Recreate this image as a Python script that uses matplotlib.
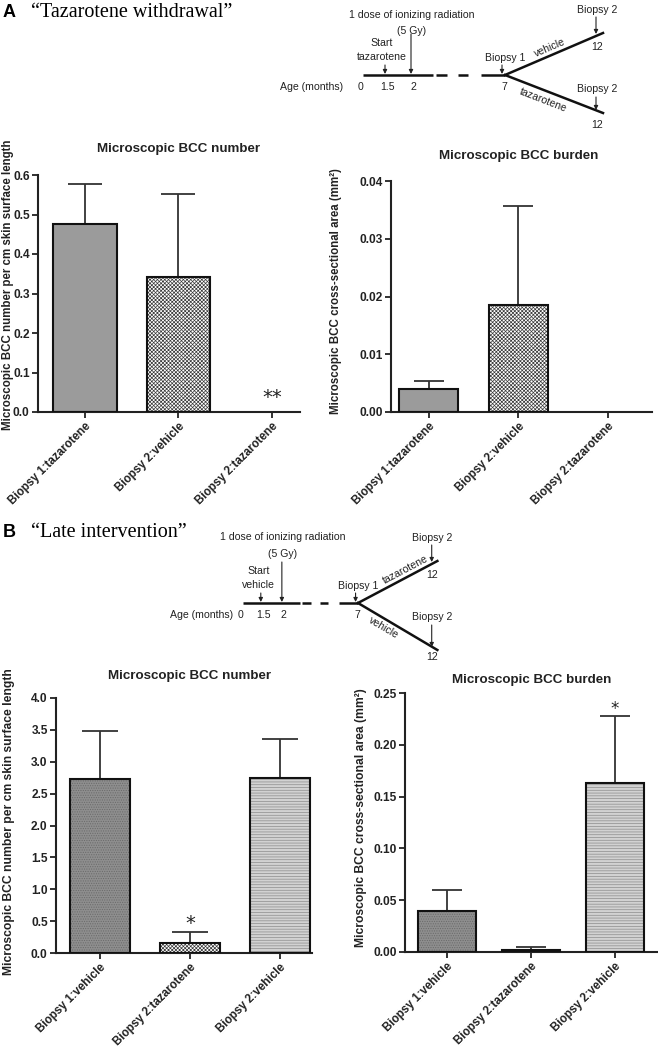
import numpy as np
import matplotlib
matplotlib.use('Agg')
import matplotlib.pyplot as plt

plt.rcParams['font.family'] = ['Liberation Sans', 'DejaVu Sans']
plt.rcParams['hatch.linewidth'] = 0.5

# ---- data ----
groups_a = ['Biopsy 1:tazarotene', 'Biopsy 2:vehicle', 'Biopsy 2:tazarotene']
a_number_mean = [0.475, 0.343, 0.0]
a_number_err = [0.102, 0.210, 0.0]
a_burden_mean = [0.0039, 0.0186, 0.0]
a_burden_err = [0.0014, 0.0171, 0.0]

groups_b = ['Biopsy 1:vehicle', 'Biopsy 2:tazarotene', 'Biopsy 2:vehicle']
b_number_mean = [2.73, 0.16, 2.75]
b_number_err = [0.75, 0.17, 0.60]
b_burden_mean = [0.040, 0.002, 0.163]
b_burden_err = [0.020, 0.003, 0.065]

W, H = 658, 1050
fig = plt.figure(figsize=(W / 100, H / 100), dpi=100)
ov = fig.add_axes([0, 0, 1, 1])
ov.set_xlim(0, W)
ov.set_ylim(H, 0)
ov.axis('off')

TXT = '#222222'
SCH_FONT = ['Liberation Sans Narrow', 'Liberation Sans', 'DejaVu Sans']


def px_axes(x0, y0, x1, y1):
    return fig.add_axes([x0 / W, 1 - y1 / H, (x1 - x0) / W, (y1 - y0) / H])


def bar_panel(ax, groups, means, errs, styles, ylim, yticks, fmt, xlim, width, capsize):
    x = np.arange(len(groups))
    for xi, m, (fc, hatch, hc) in zip(x, means, styles):
        if m <= 0:
            continue
        ax.bar(xi, m, width, color=fc, hatch=hatch, edgecolor=hc, linewidth=0, zorder=2)
        ax.bar(xi, m, width, fill=False, edgecolor='#111111', linewidth=1.5, zorder=3)
    nz = [i for i, m in enumerate(means) if m > 0]
    ax.errorbar(x[nz], np.array(means)[nz],
                yerr=[np.zeros(len(nz)), np.array(errs)[nz]],
                fmt='none', ecolor='#333333', elinewidth=1.3, capsize=capsize,
                capthick=1.3, zorder=1)
    ax.set_xlim(*xlim)
    ax.set_ylim(*ylim)
    ax.set_yticks(yticks)
    ax.set_yticklabels([fmt.format(v) for v in yticks], fontsize=8.6,
                       fontweight='bold', color=TXT)
    ax.set_xticks(x)
    ax.set_xticklabels(groups, rotation=45, ha='right', rotation_mode='anchor',
                       fontsize=8.4, fontweight='bold', color=TXT)
    for s in ['top', 'right']:
        ax.spines[s].set_visible(False)
    for s in ['left', 'bottom']:
        ax.spines[s].set_linewidth(1.5)
        ax.spines[s].set_color('#222222')
    ax.tick_params(direction='out', length=4, width=1.3, color='#222222', pad=2)
    ax.patch.set_alpha(0)


checker = ('white', 'xxxxxxxxx', '#3a3a3a')
style_a = [('#9b9b9b', None, '#9b9b9b'), checker, checker]
style_b = [('#8e8e8e', '.......', '#6a6a6a'), checker, ('#d2d2d2', '------', '#8c8c8c')]

# panel A bars
ax1 = px_axes(38, 175, 300, 412)
bar_panel(ax1, groups_a, a_number_mean, a_number_err, style_a, (0, 0.6),
          [0, 0.1, 0.2, 0.3, 0.4, 0.5, 0.6], '{:.1f}', (-0.503, 2.30), 0.68, 12)
ax1.text(2, 0.036, '**', ha='center', va='center', fontsize=14, color=TXT,
         family=['DejaVu Sans'])

ax2 = px_axes(391, 181, 652, 412)
bar_panel(ax2, groups_a, a_burden_mean, a_burden_err, style_a, (0, 0.04),
          [0, 0.01, 0.02, 0.03, 0.04], '{:.2f}', (-0.42, 2.49), 0.66, 11)

# panel B bars
ax3 = px_axes(56, 698, 312, 953)
bar_panel(ax3, groups_b, b_number_mean, b_number_err, style_b, (0, 4.0),
          np.arange(0, 4.01, 0.5), '{:.1f}', (-0.49, 2.36), 0.67, 13)
ax3.text(1, 0.47, '*', ha='center', va='center', fontsize=14, color=TXT,
         family=['DejaVu Sans'])

ax4 = px_axes(405, 693, 657, 952)
bar_panel(ax4, groups_b, b_burden_mean, b_burden_err, style_b, (0, 0.25),
          [0, 0.05, 0.10, 0.15, 0.20, 0.25], '{:.2f}', (-0.5, 2.5), 0.68, 11)
ax4.text(2, 0.235, '*', ha='center', va='center', fontsize=12, color=TXT,
         family=['DejaVu Sans'])

# titles and y labels (pixel positions)
for x, y, t in [(179, 149, 'Microscopic BCC number'), (519, 156, 'Microscopic BCC burden'),
                (190, 676, 'Microscopic BCC number'), (532, 680, 'Microscopic BCC burden')]:
    ov.text(x, y, t, ha='center', va='center', fontsize=9.6, fontweight='bold', color=TXT)

for x, y, t, fs in [(8, 285, 'Microscopic BCC number per cm skin surface length', 8.3),
                    (336, 291, 'Microscopic BCC cross-sectional area (mm²)', 8.3),
                    (9, 822, 'Microscopic BCC number per cm skin surface length', 8.7),
                    (361, 818, 'Microscopic BCC cross-sectional area (mm²)', 8.7)]:
    ov.text(x, y, t, ha='center', va='center', rotation=90, fontsize=fs,
            fontweight='bold', color=TXT)

# panel headings
ov.text(3, 17, 'A', fontsize=13, fontweight='bold', color='black', va='baseline')
ov.text(31, 17, '\u201cTazarotene withdrawal\u201d', fontsize=14.5, va='baseline',
        family=['Liberation Serif', 'DejaVu Serif'], color='black')
ov.text(3, 537, 'B', fontsize=13, fontweight='bold', color='black', va='baseline')
ov.text(31, 537, '\u201cLate intervention\u201d', fontsize=14.5, va='baseline',
        family=['Liberation Serif', 'DejaVu Serif'], color='black')


# ---- timeline schematics ----
def arrow(x, y0, y1):
    ov.annotate('', xy=(x, y1), xytext=(x, y0),
                arrowprops=dict(arrowstyle='-|>', lw=0.8, color='#222222',
                                mutation_scale=6, shrinkA=0, shrinkB=0))


def label(x, y, t, rot=0, fs=7.6):
    ov.text(x, y, t, ha='center', va='center', fontsize=fs, family=SCH_FONT,
            color=TXT, rotation=rot)


def schematic(fx, fy, sx, start_drug, top_drug, bot_drug, top_t, bot_t,
              dose_y, gy_y, bot_dy, bot12):
    def X(u):
        return fx + sx * u
    lw = 1.8
    for u0, u1 in [(-142, -72), (-69, -58), (-47, -37), (-24, 0)]:
        ov.plot([X(u0), X(u1)], [fy, fy], color='#111111', lw=lw, solid_capstyle='butt')
    top_dy = -42
    bx = X(98)
    ov.plot([fx, bx], [fy, fy + top_dy], color='#111111', lw=lw)
    ov.plot([fx, bx], [fy, fy + bot_dy], color='#111111', lw=lw)
    # branch labels along lines
    for t, dy, name, off in [(top_t, top_dy, top_drug, -8), (bot_t, bot_dy, bot_drug, 10)]:
        ang = np.degrees(np.arctan2(-dy, bx - fx))
        label(fx + t * (bx - fx), fy + t * dy + off, name, rot=ang)
    label(X(-93), fy + dose_y, '1 dose of ionizing radiation')
    label(X(-93), fy + gy_y, '(5 Gy)')
    label(X(-123), fy - 32, 'Start')
    label(X(-123), fy - 18, start_drug)
    arrow(X(-120), fy - 10, fy - 1)
    arrow(X(-94), fy - 41, fy - 1)
    label(X(-193), fy + 12, 'Age (months)')
    for u, t in [(-145, '0'), (-117, '1.5'), (-92, '2'), (-1, '7')]:
        label(X(u), fy + 12, t)
    label(X(0), fy - 17, 'Biopsy 1')
    arrow(X(-3), fy - 10, fy - 1)
    label(X(92), fy - 65, 'Biopsy 2')
    arrow(X(91), fy - 58, fy - 41)
    label(X(92), fy - 28, '12')
    label(X(92), fy + 14, 'Biopsy 2')
    arrow(X(91), fy + 22, fy + bot_dy - 3)
    label(X(92), fy + bot12, '12')


schematic(505, 75, 1.0, 'tazarotene', 'vehicle', 'tazarotene', 0.46, 0.39,
          -60, -44, 38, 50)
schematic(358, 603, 0.81, 'vehicle', 'tazarotene', 'vehicle', 0.6, 0.32,
          -66, -49, 47, 54)

fig.savefig('out.png', dpi=100)
